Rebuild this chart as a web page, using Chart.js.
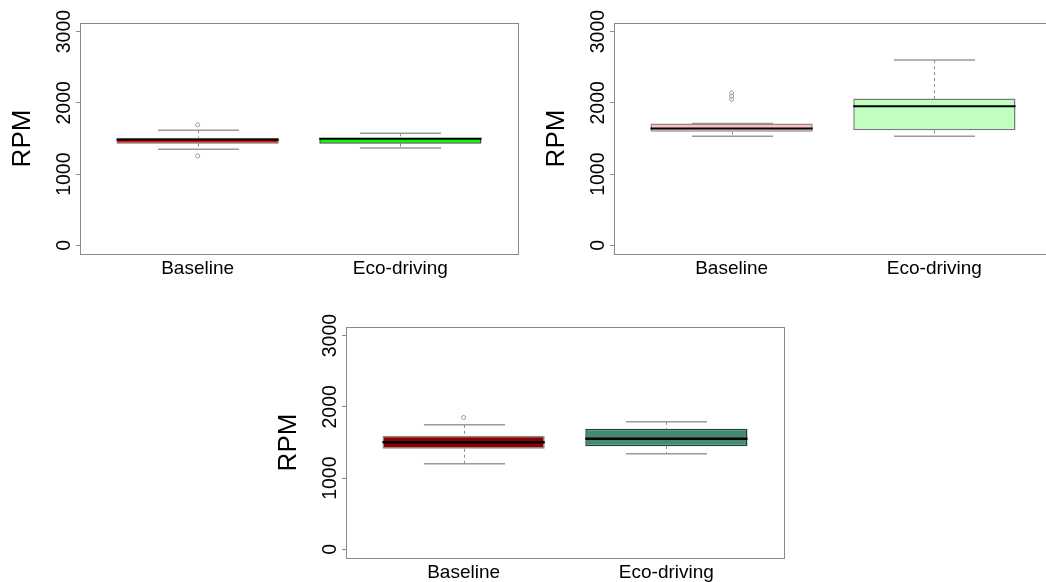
<!DOCTYPE html>
<html><head><meta charset="utf-8">
<script src="https://cdn.jsdelivr.net/npm/chart.js@4/dist/chart.umd.min.js"></script>
<style>
html,body{margin:0;padding:0;background:#fff;overflow:hidden;width:1046px;height:582px;position:relative;}
canvas{position:absolute;}
</style></head><body>
<canvas id="c1" style="left:0px;top:0px;width:528px;height:290px" width="528" height="290"></canvas>
<canvas id="c2" style="left:534px;top:0px;width:528px;height:290px" width="528" height="290"></canvas>
<canvas id="c3" style="left:266px;top:304px;width:528px;height:290px" width="528" height="290"></canvas>
<script>
// ---- data ----
const categories = ['Baseline', 'Eco-driving'];
const yTicks = [0, 1000, 2000, 3000];
const yTitle = 'RPM';

// panel 1
const p1Q1 = [1427, 1427];
const p1Q3 = [1511, 1511];
const p1Median = [1483, 1497];
const p1Low = [1349, 1367];
const p1High = [1614, 1572];
const p1OutBaseline = [1692, 1256];
const p1OutEco = [];

// panel 2
const p2Q1 = [1595, 1614];
const p2Q3 = [1712, 2061];
const p2Median = [1642, 1953];
const p2Low = [1531, 1531];
const p2High = [1712, 2600];
const p2OutBaseline = [2140, 2095, 2050];
const p2OutEco = [];

// panel 3
const p3Q1 = [1412, 1449];
const p3Q3 = [1594, 1692];
const p3Median = [1505, 1552];
const p3Low = [1201, 1341];
const p3High = [1748, 1790];
const p3OutBaseline = [1851];
const p3OutEco = [];

// ---- styles ----
const p1Fill = ['#FF0000', '#00FF00'];
const p2Fill = ['#FFC0C4', '#C1FFC1'];
const p3Fill = ['#8B0000', '#458B74'];
const p1Border = ['#6e6e6e', '#4a4a4a'];
const p2Border = ['#8a8a8a', '#7a7a7a'];
const p3Border = ['#8a8a8a', '#1f4a3b'];

const boxExtras = {
  id: 'boxExtras',
  beforeDatasetsDraw(chart) {
    const {ctx, scales: {y}} = chart;
    const s = chart.options.plugins.boxExtras;
    const bars = chart.getDatasetMeta(0).data;
    ctx.save();
    bars.forEach((bar, i) => {
      const cx = Math.round(bar.x) + 0.5;
      const half = bar.width / 4;
      const yLo = y.getPixelForValue(s.low[i]);
      const yHi = y.getPixelForValue(s.high[i]);
      const yQ1 = y.getPixelForValue(s.q1[i]);
      const yQ3 = y.getPixelForValue(s.q3[i]);
      ctx.strokeStyle = '#8c8c8c';
      ctx.lineWidth = 1;
      ctx.setLineDash([3, 3]);
      ctx.beginPath();
      ctx.moveTo(cx, yHi); ctx.lineTo(cx, yQ3);
      ctx.moveTo(cx, yQ1); ctx.lineTo(cx, yLo);
      ctx.stroke();
      ctx.setLineDash([]);
      ctx.strokeStyle = '#9a9a9a';
      ctx.lineWidth = 1.5;
      ctx.beginPath();
      ctx.moveTo(cx - half, yHi); ctx.lineTo(cx + half, yHi);
      ctx.moveTo(cx - half, yLo); ctx.lineTo(cx + half, yLo);
      ctx.stroke();
    });
    ctx.restore();
  },
  afterDatasetsDraw(chart) {
    const {ctx, scales: {y}} = chart;
    const s = chart.options.plugins.boxExtras;
    const bars = chart.getDatasetMeta(0).data;
    ctx.save();
    ctx.strokeStyle = '#000';
    ctx.lineWidth = s.medW;
    bars.forEach((bar, i) => {
      const ym = y.getPixelForValue(s.median[i]);
      ctx.beginPath();
      ctx.moveTo(bar.x - bar.width / 2, ym);
      ctx.lineTo(bar.x + bar.width / 2, ym);
      ctx.stroke();
    });
    ctx.restore();
  },
  afterDraw(chart) {
    const {ctx, chartArea: a} = chart;
    ctx.save();
    ctx.strokeStyle = '#8a8a8a';
    ctx.lineWidth = 1;
    ctx.strokeRect(Math.round(a.left) + 0.5, Math.round(a.top) + 0.5,
      Math.round(a.right - a.left), Math.round(a.bottom - a.top));
    ctx.restore();
  }
};

function makeChart(id, q1, q3, median, low, high, outB, outE, fills, borders, medW) {
  const outliers = outB.map(v => ({x: 1, y: v})).concat(outE.map(v => ({x: 2, y: v})));
  return new Chart(document.getElementById(id), {
    type: 'bar',
    data: {
      datasets: [
        {
          type: 'bar',
          data: categories.map((c, i) => ({x: i + 1, y: [q1[i], q3[i]]})),
          backgroundColor: fills,
          borderColor: borders,
          borderWidth: 1.5,
          borderSkipped: false,
          barPercentage: 0.8,
          categoryPercentage: 1.0
        },
        {
          type: 'scatter',
          data: outliers,
          pointStyle: 'circle',
          pointRadius: 2,
          borderColor: '#9a9a9a',
          backgroundColor: 'rgba(0,0,0,0)',
          borderWidth: 1
        }
      ]
    },
    options: {
      responsive: false,
      animation: false,
      events: [],
      layout: {padding: {left: 0, right: 10, top: 23, bottom: 6}},
      plugins: {
        legend: {display: false},
        tooltip: {enabled: false},
        boxExtras: {q1, q3, median, low, high, medW}
      },
      scales: {
        x: {
          type: 'linear',
          offset: false,
          min: 0.42, max: 2.58,
          afterBuildTicks: s => { s.ticks = categories.map((c, i) => ({value: i + 1})); },
          afterFit: s => { s.height = 30; },
          grid: {display: false, offset: false},
          border: {display: false},
          ticks: {
            autoSkip: false, maxRotation: 0, minRotation: 0, padding: -4.5,
            color: '#000',
            font: {family: 'Liberation Sans, Arial, sans-serif', size: 19},
            callback: v => categories[v - 1]
          }
        },
        y: {
          type: 'linear',
          min: -120, max: 3120,
          afterBuildTicks: s => { s.ticks = yTicks.map(v => ({value: v})); },
          afterFit: s => { s.width = 80; },
          grid: {display: true, drawOnChartArea: false, drawTicks: true, tickLength: 4, tickColor: '#8a8a8a', tickWidth: 1},
          border: {display: false},
          title: {
            display: true, text: yTitle, color: '#000',
            font: {family: 'Liberation Sans, Arial, sans-serif', size: 26},
            padding: {top: 7, bottom: 0}
          },
          ticks: {
            minRotation: 90, maxRotation: 90, crossAlign: 'center', padding: -10,
            color: '#000',
            font: {family: 'Liberation Sans, Arial, sans-serif', size: 19.5},
            callback: v => String(v)
          }
        }
      }
    },
    plugins: [boxExtras]
  });
}

makeChart('c1', p1Q1, p1Q3, p1Median, p1Low, p1High, p1OutBaseline, p1OutEco, p1Fill, p1Border, 2);
makeChart('c2', p2Q1, p2Q3, p2Median, p2Low, p2High, p2OutBaseline, p2OutEco, p2Fill, p2Border, 2);
makeChart('c3', p3Q1, p3Q3, p3Median, p3Low, p3High, p3OutBaseline, p3OutEco, p3Fill, p3Border, 2.5);
</script>
</body></html>
